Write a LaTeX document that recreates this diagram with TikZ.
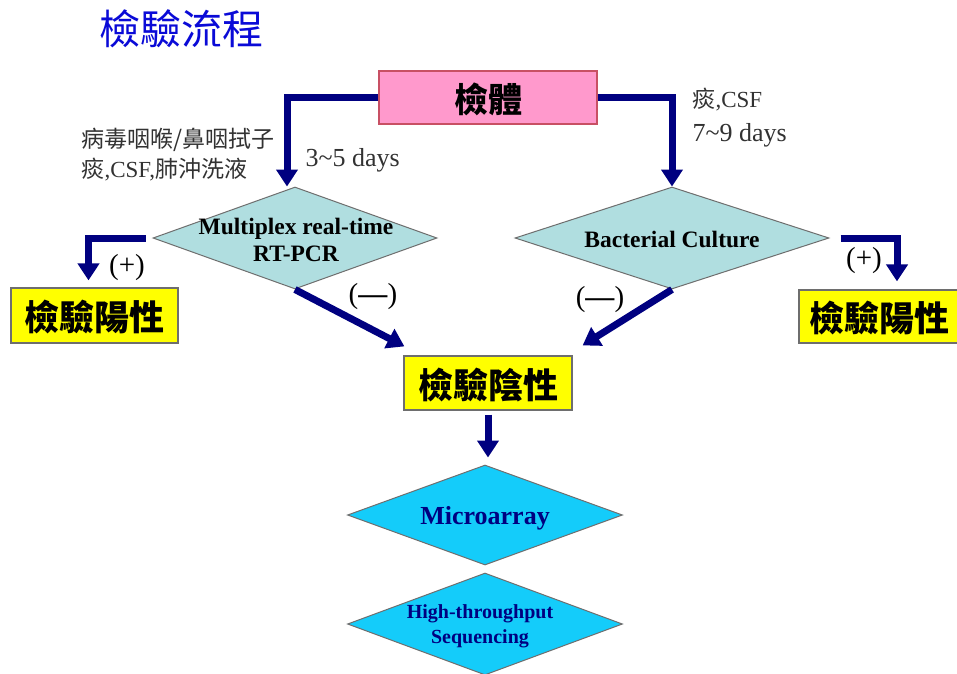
\documentclass[tikz,border=0pt]{standalone}
\usepackage{fontspec}
\setmainfont{Liberation Serif}
\newfontfamily\cjk{Noto Sans CJK TC}
\usetikzlibrary{arrows.meta,shapes.geometric}
\definecolor{navy}{RGB}{0,0,128}
\definecolor{titleblue}{RGB}{10,10,215}
\definecolor{pinkfill}{RGB}{255,153,204}
\definecolor{pinkborder}{RGB}{200,80,100}
\definecolor{tealfill}{RGB}{176,222,224}
\definecolor{cyanfill}{RGB}{20,204,250}
\definecolor{yellowfill}{RGB}{255,255,0}
\definecolor{boxborder}{RGB}{110,110,110}
\definecolor{labelgray}{RGB}{50,50,50}
\tikzset{
  arr/.style={line width=7pt, draw=navy, -{Triangle[width=21pt,length=17pt]}},
  resbox/.style={rectangle, draw=boxborder, line width=1.2pt, fill=yellowfill, inner sep=0pt},
  testdia/.style={diamond, draw=boxborder, line width=1pt, fill=tealfill, inner sep=0pt},
  seqdia/.style={diamond, draw=boxborder, line width=1pt, fill=cyanfill, inner sep=0pt},
  boxtext/.style={font=\cjk\bfseries\fontsize{35}{37}\selectfont},
  signlbl/.style={font=\fontsize{29}{31}\selectfont},
  daylbl/.style={font=\fontsize{26}{28}\selectfont, anchor=west, text=labelgray},
  srclbl/.style={font=\fontsize{23}{25}\selectfont, anchor=west, text=labelgray},
  dialbl/.style={font=\bfseries\fontsize{23.5}{27}\selectfont, align=center},
  seqlbl/.style={text=navy, font=\bfseries, align=center}
}
\begin{document}
\begin{tikzpicture}[x=1pt,y=-1pt]
\useasboundingbox (0,0) rectangle (957,673);
\clip (0,0) rectangle (957,673);
\fill[white] (0,0) rectangle (957,673);

% title
\node[anchor=west, text=titleblue, font=\cjk\fontsize{41}{43}\selectfont, inner sep=0pt] (title) at (99,29) {檢驗流程};

% specimen
\node[rectangle, draw=pinkborder, line width=1.2pt, fill=pinkfill, minimum width=218pt, minimum height=53pt, inner sep=0pt] (spec) at (488,97.5) {};
\node[font=\cjk\bfseries\fontsize{34}{36}\selectfont] (spectxt) at (488,99) {檢體};

% test diamonds
\node[testdia, minimum width=284pt, minimum height=102pt] (pcr) at (295,238) {};
\node[dialbl] (pcrtxt) at (296,240) {Multiplex real-time\\RT-PCR};
\node[testdia, minimum width=314pt, minimum height=102pt] (cult) at (672,238) {};
\node[dialbl] (culttxt) at (672,239) {Bacterial Culture};

% result boxes
\node[resbox, minimum width=167pt, minimum height=55pt] (posL) at (94.5,315.5) {};
\node[boxtext] (posLtxt) at (94.5,317) {檢驗陽性};
\node[resbox, minimum width=160pt, minimum height=53pt] (posR) at (879,316.5) {};
\node[boxtext] (posRtxt) at (879,318) {檢驗陽性};
\node[resbox, minimum width=168pt, minimum height=54pt] (neg) at (488,383) {};
\node[boxtext] (negtxt) at (488,385) {檢驗陰性};

% sequencing diamonds
\node[seqdia, minimum width=275pt, minimum height=100pt] (micro) at (485,515) {};
\node[seqlbl, font=\bfseries\fontsize{26}{28}\selectfont] (microtxt) at (485,518) {Microarray};
\node[seqdia, minimum width=275pt, minimum height=102pt] (hts) at (485,624) {};
\node[seqlbl, font=\bfseries\fontsize{20}{25}\selectfont] (htstxt) at (480,626) {High-throughput\\Sequencing};

% labels
\node[srclbl] (srcA) at (78,140) {{\cjk 病毒咽喉/鼻咽拭子}};
\node[srclbl] (srcB) at (78,170) {{\cjk 痰},CSF,{\cjk 肺沖洗液}};
\node[daylbl] (dayA) at (302,160) {3\textasciitilde 5 days};
\node[srclbl] (srcC) at (689,100) {{\cjk 痰},CSF};
\node[daylbl] (dayB) at (689,135) {7\textasciitilde 9 days};
\node[signlbl] (plusL) at (127,268) {(+)};
\node[signlbl] (plusR) at (864,261) {(+)};
\node[signlbl] (minL) at (373,297) {(\textbf{—})};
\node[signlbl] (minR) at (600,300) {(\textbf{—})};

% connectors
\draw[arr] (spec.west) -| ([xshift=-8pt]pcr.north);
\draw[arr] (spec.east) -| (cult.north);
\draw[arr] ([xshift=-7pt]pcr.west) -| ([xshift=-6pt,yshift=7pt]posL.north);
\draw[arr] ([xshift=11pt]cult.east) -| ([xshift=18pt,yshift=8pt]posR.north);
\draw[arr] (pcr.south) -- ([xshift=1pt,yshift=9pt]neg.north west);
\draw[arr] (cult.south) -- ([xshift=10pt,yshift=10pt]neg.north east);
\draw[arr] ([yshift=-4pt]neg.south) -- ([yshift=7pt]neg.south |- micro.north);
\end{tikzpicture}
\end{document}
